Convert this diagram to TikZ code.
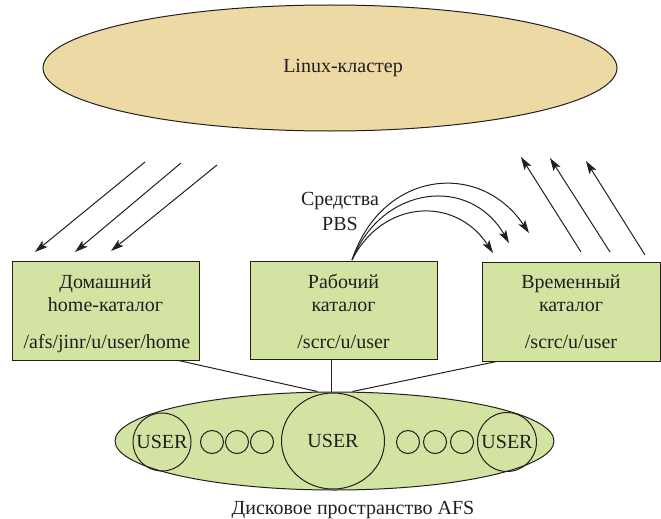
\documentclass[tikz,border=0pt]{standalone}
\usepackage{fontspec}
\setmainfont{Liberation Serif}
\newfontfamily\diagfont{Liberation Serif}
\usetikzlibrary{shapes.geometric,arrows.meta}
\definecolor{tanfill}{HTML}{EDD9A3}
\definecolor{greenfill}{HTML}{D3E3A2}
\definecolor{ink}{HTML}{231F20}
\tikzset{
  every node/.style={text=ink, font=\diagfont\fontsize{20}{23}\selectfont},
  cloud/.style={ellipse, draw=ink, fill=tanfill, line width=1pt, inner sep=0pt},
  diskell/.style={ellipse, draw=ink, fill=greenfill, line width=1pt, inner sep=0pt},
  dirbox/.style={rectangle, draw=ink, fill=greenfill, line width=1pt, inner sep=0pt},
  usercirc/.style={circle, draw=ink, line width=1pt, inner sep=0pt},
  dot/.style={circle, draw=ink, line width=1pt, inner sep=0pt, minimum size=23pt},
  arr/.style={draw=ink, line width=1pt, -{Stealth[length=13pt,width=8pt,inset=3pt]}},
  link/.style={draw=ink, line width=1pt},
}
\begin{document}
\begin{tikzpicture}[x=1pt,y=-1pt]
\useasboundingbox (0,0) rectangle (661,519);
% cluster
\node[cloud, minimum width=574pt, minimum height=126pt] (cluster) at (330,68) {};
\node (clustertxt) at (343,68) {Linux-кластер};
% boxes
\node[dirbox, minimum width=187pt, minimum height=99pt] (home) at (105.5,310.5) {};
\node[dirbox, minimum width=187pt, minimum height=98pt] (work) at (343.5,310) {};
\node[dirbox, minimum width=178pt, minimum height=99pt] (temp) at (571,311.5) {};
\node[anchor=base] (h1) at (105.5,288) {Домашний};
\node[anchor=base] (h2) at (105.5,311) {home-каталог};
\node[anchor=base] (h3) at (107,348) {/afs/jinr/u/user/home};
\node[anchor=base] (w1) at (343.5,288) {Рабочий};
\node[anchor=base] (w2) at (343.5,311) {каталог};
\node[anchor=base] (w3) at (343.5,348) {/scrc/u/user};
\node[anchor=base] (t1) at (571,288) {Временный};
\node[anchor=base] (t2) at (571,311) {каталог};
\node[anchor=base] (t3) at (571,348) {/scrc/u/user};
% PBS label
\node[anchor=base] (pbs1) at (340,205) {Средства};
\node[anchor=base] (pbs2) at (340,230) {PBS};
% down-left arrows
\coordinate (d1s) at (145,162); \coordinate (d1e) at (35,252);
\coordinate (d2s) at (181,163); \coordinate (d2e) at (75,252);
\coordinate (d3s) at (217,165); \coordinate (d3e) at (111,251);
\draw[arr] (d1s) -- (d1e);
\draw[arr] (d2s) -- (d2e);
\draw[arr] (d3s) -- (d3e);
% up-right arrows
\coordinate (u1s) at (581,252); \coordinate (u1e) at (521,157);
\coordinate (u2s) at (610,252); \coordinate (u2e) at (550,158);
\coordinate (u3s) at (645,255); \coordinate (u3e) at (586,161);
\draw[arr] (u1s) -- (u1e);
\draw[arr] (u2s) -- (u2e);
\draw[arr] (u3s) -- (u3e);
% PBS curved arrows
\coordinate (ps) at (352,260);
\coordinate (c1e) at (493,253);
\coordinate (c2e) at (509,243);
\coordinate (c3e) at (529,233);
\draw[arr] (ps) .. controls (382,200) and (455,195) .. (c1e);
\draw[arr] (ps) .. controls (382,185) and (470,175) .. (c2e);
\draw[arr] (ps) .. controls (382,170) and (480,160) .. (c3e);
% disk space
\node[diskell, minimum width=439pt, minimum height=98pt] (afs) at (334.5,441) {};
\node[usercirc, minimum size=58pt] (uleft) at (162,442) {USER};
\node[usercirc, minimum width=103pt, minimum height=96pt, ellipse] (ucenter) at (333,441) {USER};
\node[usercirc, minimum size=59pt] (uright) at (507,442) {USER};
\node[dot] (l1) at (212,442) {};
\node[dot] (l2) at (237,442) {};
\node[dot] (l3) at (262,442) {};
\node[dot] (r1) at (408,442) {};
\node[dot] (r2) at (435,442) {};
\node[dot] (r3) at (462,442) {};
% links
\draw[link] ([xshift=-21pt]home.south east) -- ([xshift=-17pt]afs.north);
\draw[link] ([xshift=-12.5pt]work.south) -- ([xshift=-3.5pt]afs.north);
\draw[link] ([xshift=15pt]temp.south west) -- ([xshift=18pt]afs.north);
% caption
\node[anchor=base] (caption) at (353,514) {Дисковое пространство AFS};
\end{tikzpicture}
\end{document}
